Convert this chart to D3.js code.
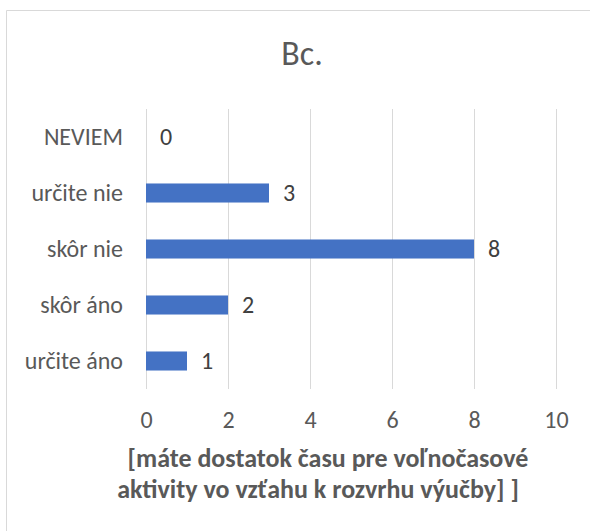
<!DOCTYPE html>
<html lang="sk">
<head>
    <meta charset="UTF-8">
    <title>Bc.</title>
    <script src="https://cdn.jsdelivr.net/npm/d3@7"></script>
    <style>
        body, html {
            margin: 0;
            padding: 0;
            background: #fff;
            overflow: hidden;
        }
        svg {
            display: block;
            font-family: Calibri, Carlito, Lato, sans-serif;
        }
    </style>
</head>
<body>
    <svg id="mainsvg"></svg>
    <script>
        // data (top row first)
        const categories = ['NEVIEM', 'určite nie', 'skôr nie', 'skôr áno', 'určite áno'];
        const values = [0, 3, 8, 2, 1];
        const ticks = [0, 2, 4, 6, 8, 10];
        const title = 'Bc.';
        const axisTitle = ['[máte dostatok času pre voľnočasové', 'aktivity vo vzťahu k rozvrhu výučby] ]'];

        const data = categories.map((c, i) => ({ cat: c, val: values[i] }));

        const width = 590, height = 531;
        const svg = d3.select('svg').attr('width', width).attr('height', height);

        // chart frame (cropped on the right and bottom)
        svg.append('path')
            .attr('d', `M${width},10.5 H6.5 V${height}`)
            .attr('fill', 'none')
            .attr('stroke', '#d9d9d9')
            .attr('stroke-width', 1);

        const plot = { left: 146, right: 556, top: 109, bottom: 389 };

        const xScale = d3.scaleLinear().domain([0, 10]).range([plot.left, plot.right]);
        const yScale = d3.scaleBand().domain(categories).range([plot.top, plot.bottom])
            .paddingInner(0.66).paddingOuter(0.33);

        // gridlines
        const grid = svg.append('g')
            .attr('transform', `translate(0, ${plot.bottom})`)
            .call(d3.axisBottom(xScale).tickValues(ticks).tickSize(-(plot.bottom - plot.top)).tickFormat(''));
        grid.select('.domain').remove();
        grid.selectAll('.tick line').attr('stroke', '#d9d9d9').attr('shape-rendering', 'crispEdges');

        // tick labels
        const xAxis = svg.append('g')
            .attr('transform', `translate(0, ${plot.bottom})`)
            .call(d3.axisBottom(xScale).tickValues(ticks).tickSize(0).tickPadding(0));
        xAxis.select('.domain').remove();
        xAxis.selectAll('.tick text')
            .attr('y', 39)
            .attr('dy', 0)
            .attr('font-size', '24px')
            .attr('font-family', 'Calibri, Carlito, Lato, sans-serif')
            .attr('fill', '#595959');

        // category labels
        const yAxis = svg.append('g')
            .attr('transform', `translate(${plot.left}, 0)`)
            .call(d3.axisLeft(yScale).tickSize(0).tickPadding(23));
        yAxis.select('.domain').remove();
        yAxis.selectAll('.tick text')
            .attr('font-size', '24px')
            .attr('font-family', 'Calibri, Carlito, Lato, sans-serif')
            .attr('fill', '#595959');

        // bars
        svg.append('g').selectAll('rect').data(data).enter().append('rect')
            .attr('x', xScale(0))
            .attr('y', d => yScale(d.cat))
            .attr('width', d => xScale(d.val) - xScale(0))
            .attr('height', yScale.bandwidth())
            .attr('fill', '#4472c4');

        // value labels
        svg.append('g').selectAll('text').data(data).enter().append('text')
            .attr('x', d => xScale(d.val) + 14)
            .attr('y', d => yScale(d.cat) + yScale.bandwidth() / 2)
            .attr('dy', '0.35em')
            .attr('font-size', '24px')
            .attr('fill', '#404040')
            .text(d => d.val);

        // title
        svg.append('text')
            .attr('x', 302)
            .attr('y', 65)
            .attr('text-anchor', 'middle')
            .attr('font-size', '34px')
            .attr('fill', '#595959')
            .text(title);

        // axis title
        svg.append('g').selectAll('text').data(axisTitle).enter().append('text')
            .attr('x', (d, i) => i === 0 ? 328 : 318)
            .attr('y', (d, i) => 467 + i * 31)
            .attr('text-anchor', 'middle')
            .attr('font-size', '26px')
            .attr('font-weight', 'bold')
            .attr('fill', '#595959')
            .text(d => d);
    </script>
</body>
</html>
